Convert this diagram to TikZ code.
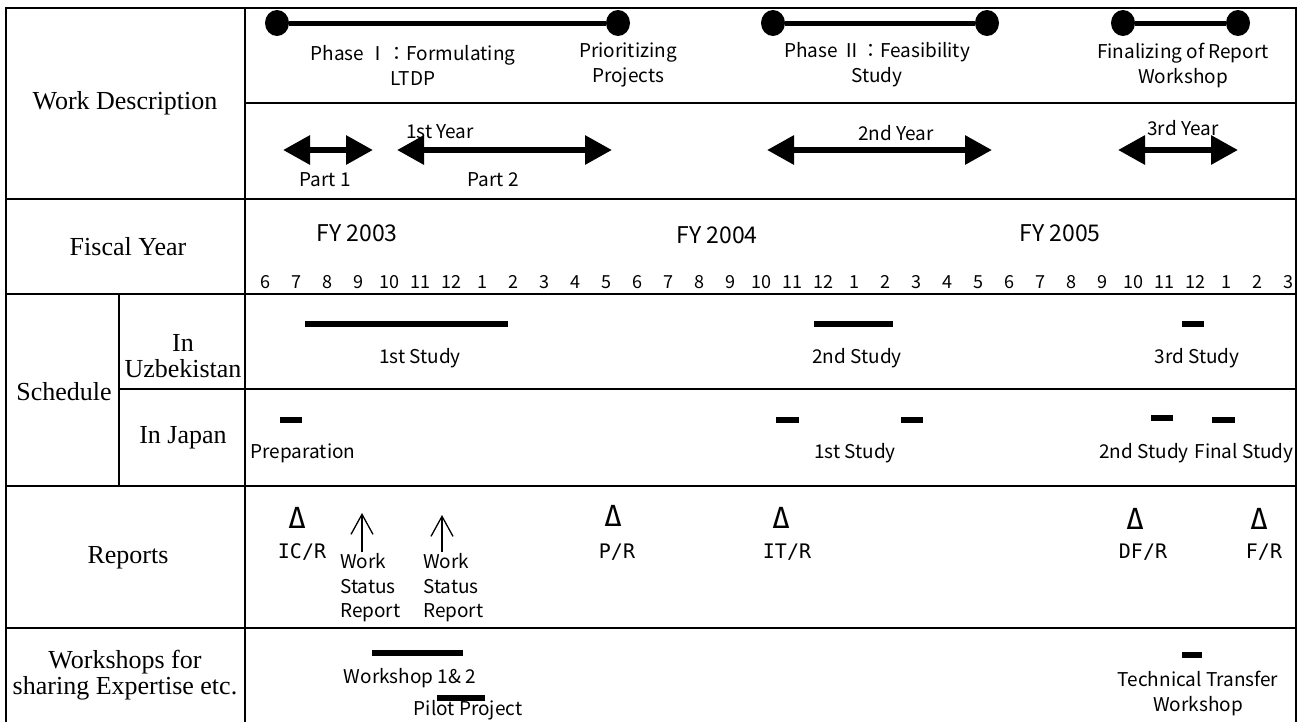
\documentclass[tikz,border=0pt]{standalone}
\usepackage{fontspec}
\setmainfont{Liberation Serif}
\newfontfamily\gothic{Noto Sans CJK JP}
\newfontfamily\repfont{DejaVu Sans Mono}
\usetikzlibrary{arrows.meta,shapes.geometric}

\begin{document}
\begin{tikzpicture}[x=1pt,y=-1pt,
    grid/.style={line width=2.6pt},
    head/.style={font=\fontsize{26}{26}\selectfont, align=center, inner sep=0pt},
    lbl/.style={font=\gothic\fontsize{19}{25}\selectfont, align=center, inner sep=0pt},
    small/.style={font=\gothic\fontsize{19}{24.5}\selectfont, align=left, inner sep=0pt},
    mon/.style={font=\gothic\fontsize{18}{18}\selectfont, inner sep=0pt},
    fy/.style={font=\gothic\fontsize{23}{23}\selectfont, inner sep=0pt},
    rep/.style={font=\repfont\fontsize{20}{20}\selectfont, inner sep=0pt},
    tri/.style={font=\repfont\fontsize{29}{29}\selectfont, inner sep=0pt},
    dot/.style={ellipse, fill, inner sep=0pt, minimum width=24pt, minimum height=26pt},
    bar/.style={line width=6pt},
    span/.style={line width=6pt, {Triangle[length=27pt,width=28pt]}-{Triangle[length=27pt,width=28pt]}},
    up/.style={line width=1.3pt, -{Straight Barb[length=20pt,width=22pt]}}]
    \useasboundingbox (0, 0) rectangle (1301, 721);
    \draw[grid] (6, 725) -- (6, 8) -- (1296, 8) -- (1296, 725);
    \draw[grid] (245, 8) -- (245, 725);
    \draw[grid] (119, 294) -- (119, 486);
    \draw[grid] (245, 103) -- (1296, 103);
    \draw[grid] (6, 199) -- (1296, 199);
    \draw[grid] (6, 294) -- (1296, 294);
    \draw[grid] (119, 389) -- (1296, 389);
    \draw[grid] (6, 486) -- (1296, 486);
    \draw[grid] (6, 628) -- (1296, 628);
    \node[head] (wd) at (125, 103) {Work Description};
    \node[head] (fisc) at (128, 247) {Fiscal Year};
    \node[head] (sched) at (64, 392) {Schedule};
    \node[head] (uzb) at (183, 356) {In\\Uzbekistan};
    \node[head] (jpn) at (183, 438) {In Japan};
    \node[head] (reps) at (128, 558) {Reports};
    \node[head] (wshops) at (125, 675) {Workshops for\\sharing Expertise etc.};
    \node[dot] (ph1a) at (277, 23) {};
    \node[dot] (ph1b) at (618, 23) {};
    \node[dot] (ph2a) at (773, 23) {};
    \node[dot] (ph2b) at (987, 23) {};
    \node[dot] (fina) at (1123, 23) {};
    \node[dot] (finb) at (1238, 23) {};
    \draw[line width=5pt] (ph1a) -- (ph1b);
    \draw[line width=5pt] (ph2a) -- (ph2b);
    \draw[line width=5pt] (fina) -- (finb);
    \node[lbl] (ph1) at (413, 65) {Phase Ⅰ：Formulating\\LTDP};
    \node[lbl] (prior) at (628, 65) {Prioritizing\\Projects};
    \node[lbl] (ph2) at (877, 65) {Phase Ⅱ：Feasibility\\Study};
    \node[lbl] (fin) at (1183, 65) {Finalizing of Report\\Workshop};
    \coordinate (pt1l) at (283, 150);
    \coordinate (pt1r) at (373, 150);
    \coordinate (pt2l) at (397, 150);
    \coordinate (pt2r) at (612, 150);
    \coordinate (yr2l) at (767, 150);
    \coordinate (yr2r) at (992, 150);
    \coordinate (yr3l) at (1118, 150);
    \coordinate (yr3r) at (1238, 150);
    \draw[span] (pt1l) -- (pt1r);
    \draw[span] (pt2l) -- (pt2r);
    \draw[span] (yr2l) -- (yr2r);
    \draw[span] (yr3l) -- (yr3r);
    \node[lbl] (yr1) at (440, 132) {1st Year};
    \node[lbl] (yr2) at (896, 133) {2nd Year};
    \node[lbl] (yr3) at (1183, 128) {3rd Year};
    \node[lbl] (part1) at (325, 180) {Part 1};
    \node[lbl] (part2) at (493, 180) {Part 2};
    \node[fy] (fy03) at (357, 233) {FY 2003};
    \node[fy] (fy04) at (717, 235) {FY 2004};
    \node[fy] (fy05) at (1060, 233) {FY 2005};
    \foreach \m [count=\i from 0] in {6,7,8,9,10,11,12,1,2,3,4,5,6,7,8,9,10,11,12,1,2,3,4,5,6,7,8,9,10,11,12,1,2,3}
        \node[mon] (m\i) at (265+31*\i, 282) {\m};
    \coordinate (uz1a) at (305, 324);
    \coordinate (uz1b) at (508, 324);
    \coordinate (uz2a) at (814, 324);
    \coordinate (uz2b) at (893, 324);
    \coordinate (uz3a) at (1182, 324);
    \coordinate (uz3b) at (1204, 324);
    \draw[bar] (uz1a) -- (uz1b);
    \draw[bar] (uz2a) -- (uz2b);
    \draw[bar] (uz3a) -- (uz3b);
    \node[lbl] (uzs1) at (420, 358) {1st Study};
    \node[lbl] (uzs2) at (857, 358) {2nd Study};
    \node[lbl] (uzs3) at (1197, 358) {3rd Study};
    \coordinate (jp0a) at (280, 420);
    \coordinate (jp0b) at (302, 420);
    \coordinate (jp1a) at (776, 420);
    \coordinate (jp1b) at (799, 420);
    \coordinate (jp2a) at (901, 420);
    \coordinate (jp2b) at (923, 420);
    \coordinate (jp3a) at (1151, 418);
    \coordinate (jp3b) at (1173, 418);
    \coordinate (jp4a) at (1212, 420);
    \coordinate (jp4b) at (1235, 420);
    \draw[bar] (jp0a) -- (jp0b);
    \draw[bar] (jp1a) -- (jp1b);
    \draw[bar] (jp2a) -- (jp2b);
    \draw[bar] (jp3a) -- (jp3b);
    \draw[bar] (jp4a) -- (jp4b);
    \node[lbl] (prep) at (303, 453) {Preparation};
    \node[lbl] (jps1) at (855, 453) {1st Study};
    \node[lbl] (jps2) at (1144, 453) {2nd Study};
    \node[lbl] (jpsf) at (1244, 453) {Final Study};
    \node[tri] (icm) at (297, 518) {Δ};
    \node[tri] (prm) at (613, 516) {Δ};
    \node[tri] (itm) at (781, 518) {Δ};
    \node[tri] (dfm) at (1135, 519) {Δ};
    \node[tri] (frm) at (1259, 519) {Δ};
    \node[rep] (icr) at (302, 552) {IC/R};
    \node[rep] (prr) at (617, 552) {P/R};
    \node[rep] (itr) at (787, 552) {IT/R};
    \node[rep] (dfr) at (1143, 552) {DF/R};
    \node[rep] (frr) at (1264, 552) {F/R};
    \node[small, anchor=west] (wsr1) at (340, 588) {Work\\Status\\Report};
    \node[small, anchor=west] (wsr2) at (423, 588) {Work\\Status\\Report};
    \coordinate (up1a) at (362, 552);
    \coordinate (up1b) at (362, 513);
    \coordinate (up2a) at (442, 552);
    \coordinate (up2b) at (442, 515);
    \draw[up] (up1a) -- (up1b);
    \draw[up] (up2a) -- (up2b);
    \coordinate (ws1a) at (372, 653);
    \coordinate (ws1b) at (463, 653);
    \coordinate (pilota) at (437, 698);
    \coordinate (pilotb) at (485, 698);
    \coordinate (ttwa) at (1182, 655);
    \coordinate (ttwb) at (1202, 655);
    \draw[bar] (ws1a) -- (ws1b);
    \draw[bar] (pilota) -- (pilotb);
    \draw[bar] (ttwa) -- (ttwb);
    \node[lbl] (ws12) at (410, 678) {Workshop 1\& 2};
    \node[lbl] (pilot) at (468, 710) {Pilot Project};
    \node[lbl] (ttw) at (1198, 693) {Technical Transfer\\Workshop};
\end{tikzpicture}
\end{document}
